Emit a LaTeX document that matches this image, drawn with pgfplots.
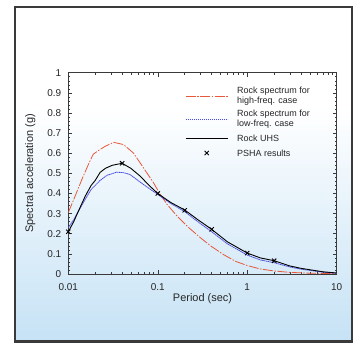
\documentclass[border=0pt]{standalone}
\usepackage{pgfplots}
\pgfplotsset{compat=1.18}
\usepackage{fontspec}
\setmainfont{Liberation Sans}
\definecolor{bgblue}{HTML}{C6E2F5}
\definecolor{framegray}{HTML}{3A3A3A}
\definecolor{hfred}{HTML}{E8583A}
\definecolor{lfblue}{HTML}{4A4CE0}
\pgfdeclareverticalshading{bgshade}{100bp}{color(0bp)=(bgblue); color(25bp)=(bgblue); color(60bp)=(white); color(100bp)=(white)}
\newcommand\ls{\rule[-3bp]{0pt}{12bp}}
\newcommand\two[2]{\begin{tabular}{@{}l@{}}#1\\#2\end{tabular}}
\pgfplotsset{
  longline/.style={legend image code/.code={\draw[##1] (0bp,0bp) -- (42bp,0bp);}},
  longmark/.style={legend image code/.code={\draw[mark repeat=2,mark phase=2,##1] plot coordinates {(0bp,0bp)(21bp,0bp)(42bp,0bp)};}},
}
\begin{document}
\begin{tikzpicture}
\fill[white] (0,0) rectangle (356bp,343bp);
\path[use as bounding box] (0,0) rectangle (356bp,343bp);
\shade[shading=bgshade] (15bp,1.5bp) rectangle (351.5bp,336bp);
\draw[line width=2bp,framegray] (15bp,1.5bp) rectangle (351.5bp,336bp);
\begin{axis}[
  at={(68.3bp,69bp)}, anchor=south west,
  scale only axis, width=268.4bp, height=201.3bp,
  xmode=log, xmin=0.01, xmax=10, ymin=0, ymax=1,
  axis line style={framegray, line width=0.7bp},
  every tick/.style={framegray, line width=0.5bp},
  major tick length=4bp, minor tick length=2bp,
  tick align=inside,
  xtick={0.01,0.1,1,10}, xticklabels={0.01,0.1,1,10},
  ytick={0,0.1,0.2,0.3,0.4,0.5,0.6,0.7,0.8,0.9,1},
  yticklabels={0,0.1,0.2,0.3,0.4,0.5,0.6,0.7,0.8,0.9,1},
  minor y tick num=4,
  tick label style={font=\fontsize{10}{12}\selectfont, text=black!85},
  xticklabel style={yshift=-6bp},
  yticklabel style={xshift=-3.5bp},
  xlabel={Period (sec)}, ylabel={Spectral acceleration (g)},
  label style={font=\fontsize{11}{13}\selectfont, text=black!85},
  xlabel style={at={(axis description cs:0.5,-0.124)},anchor=center},
  ylabel style={at={(axis description cs:-0.1416,0.5)},anchor=center},
  legend style={draw=none, fill=none, at={(axis description cs:0.435,0.934)}, anchor=north west,
    font=\fontsize{9}{10}\selectfont, row sep=3bp, column sep=9bp, inner sep=0pt,
    nodes={inner sep=0pt, text depth=}, text=black!85},
  legend cell align=left,
]
\addplot[hfred, line width=0.8bp, dash pattern=on 10bp off 1.5bp on 1.5bp off 1.5bp, longline] coordinates {
(0.01,0.305) (0.012,0.39) (0.0145,0.48) (0.017,0.55) (0.019,0.595) (0.022,0.615)
(0.026,0.635) (0.0322,0.654) (0.0414,0.643) (0.0535,0.601) (0.0693,0.527)
(0.0897,0.453) (0.1067,0.395) (0.127,0.346) (0.164,0.288) (0.221,0.231)
(0.3,0.18) (0.389,0.14) (0.55,0.095) (0.75,0.062) (1.0,0.042) (1.4,0.025)
(2.0,0.015) (3.0,0.008) (5,0.004) (10,0.002)};
\addlegendentry{\two{Rock spectrum for}{high-freq. case}}
\addplot[lfblue, line width=0.8bp, dash pattern=on 1.5bp off 0.5bp, longline] coordinates {
(0.01,0.23) (0.0115,0.27) (0.0129,0.31) (0.0154,0.37) (0.018,0.42) (0.02,0.44)
(0.0227,0.465) (0.027,0.49) (0.0347,0.506) (0.042,0.503) (0.049,0.494)
(0.069,0.445) (0.1,0.395) (0.14,0.35) (0.2,0.31) (0.28,0.26) (0.4,0.21)
(0.6,0.15) (1.0,0.094) (1.4,0.07) (2.0,0.056) (3.0,0.035) (4.0,0.024)
(7.0,0.009) (10,0.003)};
\addlegendentry{\two{Rock spectrum for}{low-freq. case}}
\addplot[black, line width=0.9bp, longline] coordinates {
(0.01,0.21) (0.0115,0.26) (0.0129,0.31) (0.0154,0.385) (0.018,0.44) (0.02,0.465)
(0.0227,0.505) (0.026,0.525) (0.031,0.54) (0.04,0.55) (0.05,0.525)
(0.0637,0.486) (0.08,0.44) (0.1,0.40) (0.14,0.355) (0.2,0.318) (0.28,0.27)
(0.4,0.222) (0.6,0.16) (1.0,0.104) (1.4,0.08) (2.0,0.066) (3.0,0.04)
(4.0,0.028) (7.0,0.011) (10,0.005)};
\addlegendentry{Rock UHS\ls}
\addplot[black, only marks, mark=x, mark size=3bp, line width=0.9bp, longmark] coordinates {
(0.01,0.21) (0.04,0.55) (0.1,0.40) (0.2,0.316) (0.4,0.222) (1,0.104) (2,0.066)};
\addlegendentry{PSHA results\ls}
\end{axis}
\end{tikzpicture}
\end{document}
